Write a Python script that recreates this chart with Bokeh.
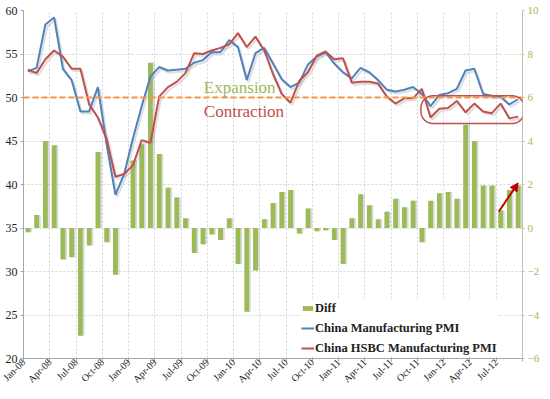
import numpy as np
from math import pi
from bokeh.plotting import figure
from bokeh.models import (Range1d, LinearAxis, FixedTicker, Span, Label, BoxAnnotation,
                          Arrow, NormalHead, Legend, LegendItem, ColumnDataSource)
from bokeh.embed import file_html
from bokeh.resources import INLINE

months = ["Jan-08", "Feb-08", "Mar-08", "Apr-08", "May-08", "Jun-08", "Jul-08", "Aug-08", "Sep-08", "Oct-08", "Nov-08", "Dec-08",
          "Jan-09", "Feb-09", "Mar-09", "Apr-09", "May-09", "Jun-09", "Jul-09", "Aug-09", "Sep-09", "Oct-09", "Nov-09", "Dec-09",
          "Jan-10", "Feb-10", "Mar-10", "Apr-10", "May-10", "Jun-10", "Jul-10", "Aug-10", "Sep-10", "Oct-10", "Nov-10", "Dec-10",
          "Jan-11", "Feb-11", "Mar-11", "Apr-11", "May-11", "Jun-11", "Jul-11", "Aug-11", "Sep-11", "Oct-11", "Nov-11", "Dec-11",
          "Jan-12", "Feb-12", "Mar-12", "Apr-12", "May-12", "Jun-12", "Jul-12", "Aug-12", "Sep-12"]

china_pmi = [53.0, 53.4, 58.4, 59.2, 53.3, 52.0, 48.4, 48.4, 51.2, 44.6, 38.8, 41.2,
             45.3, 49.0, 52.4, 53.5, 53.1, 53.2, 53.3, 54.0, 54.3, 55.2, 55.2, 56.6,
             55.8, 52.0, 55.1, 55.7, 53.9, 52.1, 51.2, 51.7, 53.8, 54.7, 55.2, 53.9,
             52.9, 52.2, 53.4, 52.9, 52.0, 50.9, 50.7, 50.9, 51.2, 50.4, 49.0, 50.3,
             50.5, 51.0, 53.1, 53.3, 50.4, 50.2, 50.1, 49.2, 49.8]

hsbc_pmi = [53.2, 52.8, 54.4, 55.4, 54.7, 53.3, 53.3, 49.2, 47.7, 45.2, 40.9, 41.2,
            42.2, 45.1, 44.8, 50.1, 51.2, 51.8, 52.8, 55.1, 55.0, 55.4, 55.7, 56.1,
            57.4, 55.8, 57.0, 55.4, 52.7, 50.4, 49.4, 51.9, 52.9, 54.8, 55.3, 54.4,
            54.5, 51.7, 51.8, 51.8, 51.6, 50.1, 49.3, 49.9, 49.9, 51.0, 47.7, 48.7,
            48.8, 49.6, 48.3, 49.3, 48.4, 48.2, 49.3, 47.6, 47.8]

diff = [-0.2, 0.6, 4.0, 3.8, -1.45, -1.35, -4.95, -0.8, 3.5, -0.65, -2.15, 0.0,
        3.1, 3.85, 7.6, 3.4, 1.85, 1.4, 0.45, -1.15, -0.75, -0.3, -0.55, 0.45,
        -1.65, -3.85, -1.95, 0.4, 1.15, 1.65, 1.75, -0.25, 0.9, -0.15, -0.1, -0.55,
        -1.65, 0.45, 1.55, 1.05, 0.4, 0.75, 1.35, 0.95, 1.25, -0.65, 1.25, 1.6,
        1.65, 1.35, 4.75, 4.0, 1.95, 1.95, 0.8, 1.75, 1.95]

left_ticks = [20, 25, 30, 35, 40, 45, 50, 55, 60]
right_ticks = [-6, -4, -2, 0, 2, 4, 6, 8, 10]
tick_labels = months[::3]

GREEN = "#9BBB59"
BLUE = "#4F81BD"
RED = "#C0504D"
ORANGE = "#F79646"
FONT = "Liberation Serif"

n = len(months)
x = np.arange(n) + 0.5
src = ColumnDataSource(dict(x=x, xs=x + 0.2, diff=diff, pmi=china_pmi, hsbc=hsbc_pmi,
                            pmi_s=np.array(china_pmi) - 0.25, hsbc_s=np.array(hsbc_pmi) - 0.25))

p = figure(width=542, height=391, output_backend="svg", toolbar_location=None,
           x_range=Range1d(0, n), y_range=Range1d(20, 60),
           min_border_left=23, min_border_right=0, min_border_top=10, min_border_bottom=0)
p.extra_y_ranges = {"diff": Range1d(-6, 10)}
p.outline_line_color = None
p.background_fill_color = "white"
p.border_fill_color = "white"

xticks = list(range(0, n + 1, 3))
p.xaxis.ticker = FixedTicker(ticks=xticks)
p.xaxis.major_label_overrides = {t: (tick_labels[i] if i < len(tick_labels) else "")
                                 for i, t in enumerate(xticks)}
p.xaxis.major_label_orientation = pi / 4
p.xaxis.major_label_text_font = FONT
p.xaxis.major_label_text_font_size = "10px"
p.xaxis.major_label_text_color = "#222222"
p.xaxis.axis_line_color = "#A6A6A6"
p.xaxis.major_tick_line_color = "#A6A6A6"
p.xaxis.major_tick_out = 3
p.xaxis.major_tick_in = 0
p.xaxis.minor_tick_out = 0
p.xaxis.minor_tick_line_color = None
p.xaxis.major_label_standoff = -1

p.yaxis.ticker = FixedTicker(ticks=left_ticks)
p.yaxis.major_label_text_font = FONT
p.yaxis.major_label_text_font_size = "12px"
p.yaxis.major_label_text_color = "#222222"
p.yaxis.axis_line_color = "#A6A6A6"
p.yaxis.major_tick_line_color = "#A6A6A6"
p.yaxis.major_tick_out = 3
p.yaxis.major_tick_in = 0
p.yaxis.minor_tick_out = 0
p.yaxis.minor_tick_line_color = None
p.yaxis.major_label_standoff = 3

raxis = LinearAxis(y_range_name="diff", ticker=FixedTicker(ticks=right_ticks))
raxis.major_label_text_font = FONT
raxis.major_label_text_font_size = "11px"
raxis.major_label_text_color = GREEN
raxis.axis_line_color = "#B8C4A8"
raxis.major_tick_line_color = "#B8C4A8"
raxis.major_tick_out = 2
raxis.major_tick_in = 0
raxis.minor_tick_out = 0
raxis.minor_tick_line_color = None
raxis.major_label_standoff = 3
p.add_layout(raxis, "right")

p.xgrid.ticker = FixedTicker(ticks=xticks)
p.ygrid.ticker = FixedTicker(ticks=left_ticks)
for g in (p.xgrid, p.ygrid):
    g.grid_line_color = "#D4D4D4"
    g.grid_line_dash = "2 2"
    g.grid_line_width = 1

# shadows
p.vbar(x="xs", top="diff", bottom=0, width=0.55, source=src, y_range_name="diff",
       fill_color="#B0B0B0", fill_alpha=0.45, line_color=None)
bars = p.vbar(x="x", top="diff", bottom=0, width=0.55, source=src, y_range_name="diff",
              fill_color=GREEN, line_color=None)

p.add_layout(Span(location=50, dimension="width", line_color=ORANGE, line_width=2, line_dash="6 3"))

p.line(x="xs", y="pmi_s", source=src, line_color="#A0A0A0", line_alpha=0.35, line_width=2)
p.line(x="xs", y="hsbc_s", source=src, line_color="#A0A0A0", line_alpha=0.35, line_width=2)
l1 = p.line(x="x", y="pmi", source=src, line_color=BLUE, line_width=2)
l2 = p.line(x="x", y="hsbc", source=src, line_color=RED, line_width=2)

p.add_layout(Label(x=20.6, y=51.2, text="Expansion", text_color=GREEN, text_font=FONT,
                   text_font_size="17px", text_baseline="middle"))
p.add_layout(Label(x=20.6, y=48.4, text="Contraction", text_color=RED, text_font=FONT,
                   text_font_size="17px", text_baseline="middle"))

p.add_layout(BoxAnnotation(left=45.4, right=57.2, top=50.2, bottom=47.0,
                           fill_color=None, fill_alpha=0,
                           line_color=RED, line_alpha=1, line_width=1.5, border_radius=12))

p.add_layout(Arrow(x_start=54.3, y_start=0.76, x_end=56.5, y_end=2.07, y_range_name="diff",
                   line_color="#C00000", line_width=2,
                   end=NormalHead(size=8, fill_color="#C00000", line_color="#C00000")))

legend = Legend(items=[LegendItem(label="Diff", renderers=[bars]),
                       LegendItem(label="China Manufacturing PMI", renderers=[l1]),
                       LegendItem(label="China HSBC Manufacturing PMI", renderers=[l2])],
                location=(278, 2), label_text_font=FONT, label_text_font_size="12.5px",
                label_text_font_style="bold", label_text_color="#222222",
                border_line_color=None, background_fill_color="white", background_fill_alpha=1,
                glyph_width=13, glyph_height=6, label_height=16, spacing=4, padding=4,
                margin=0, label_standoff=1)
p.add_layout(legend)

open("out.html", "w").write(file_html(p, INLINE))
